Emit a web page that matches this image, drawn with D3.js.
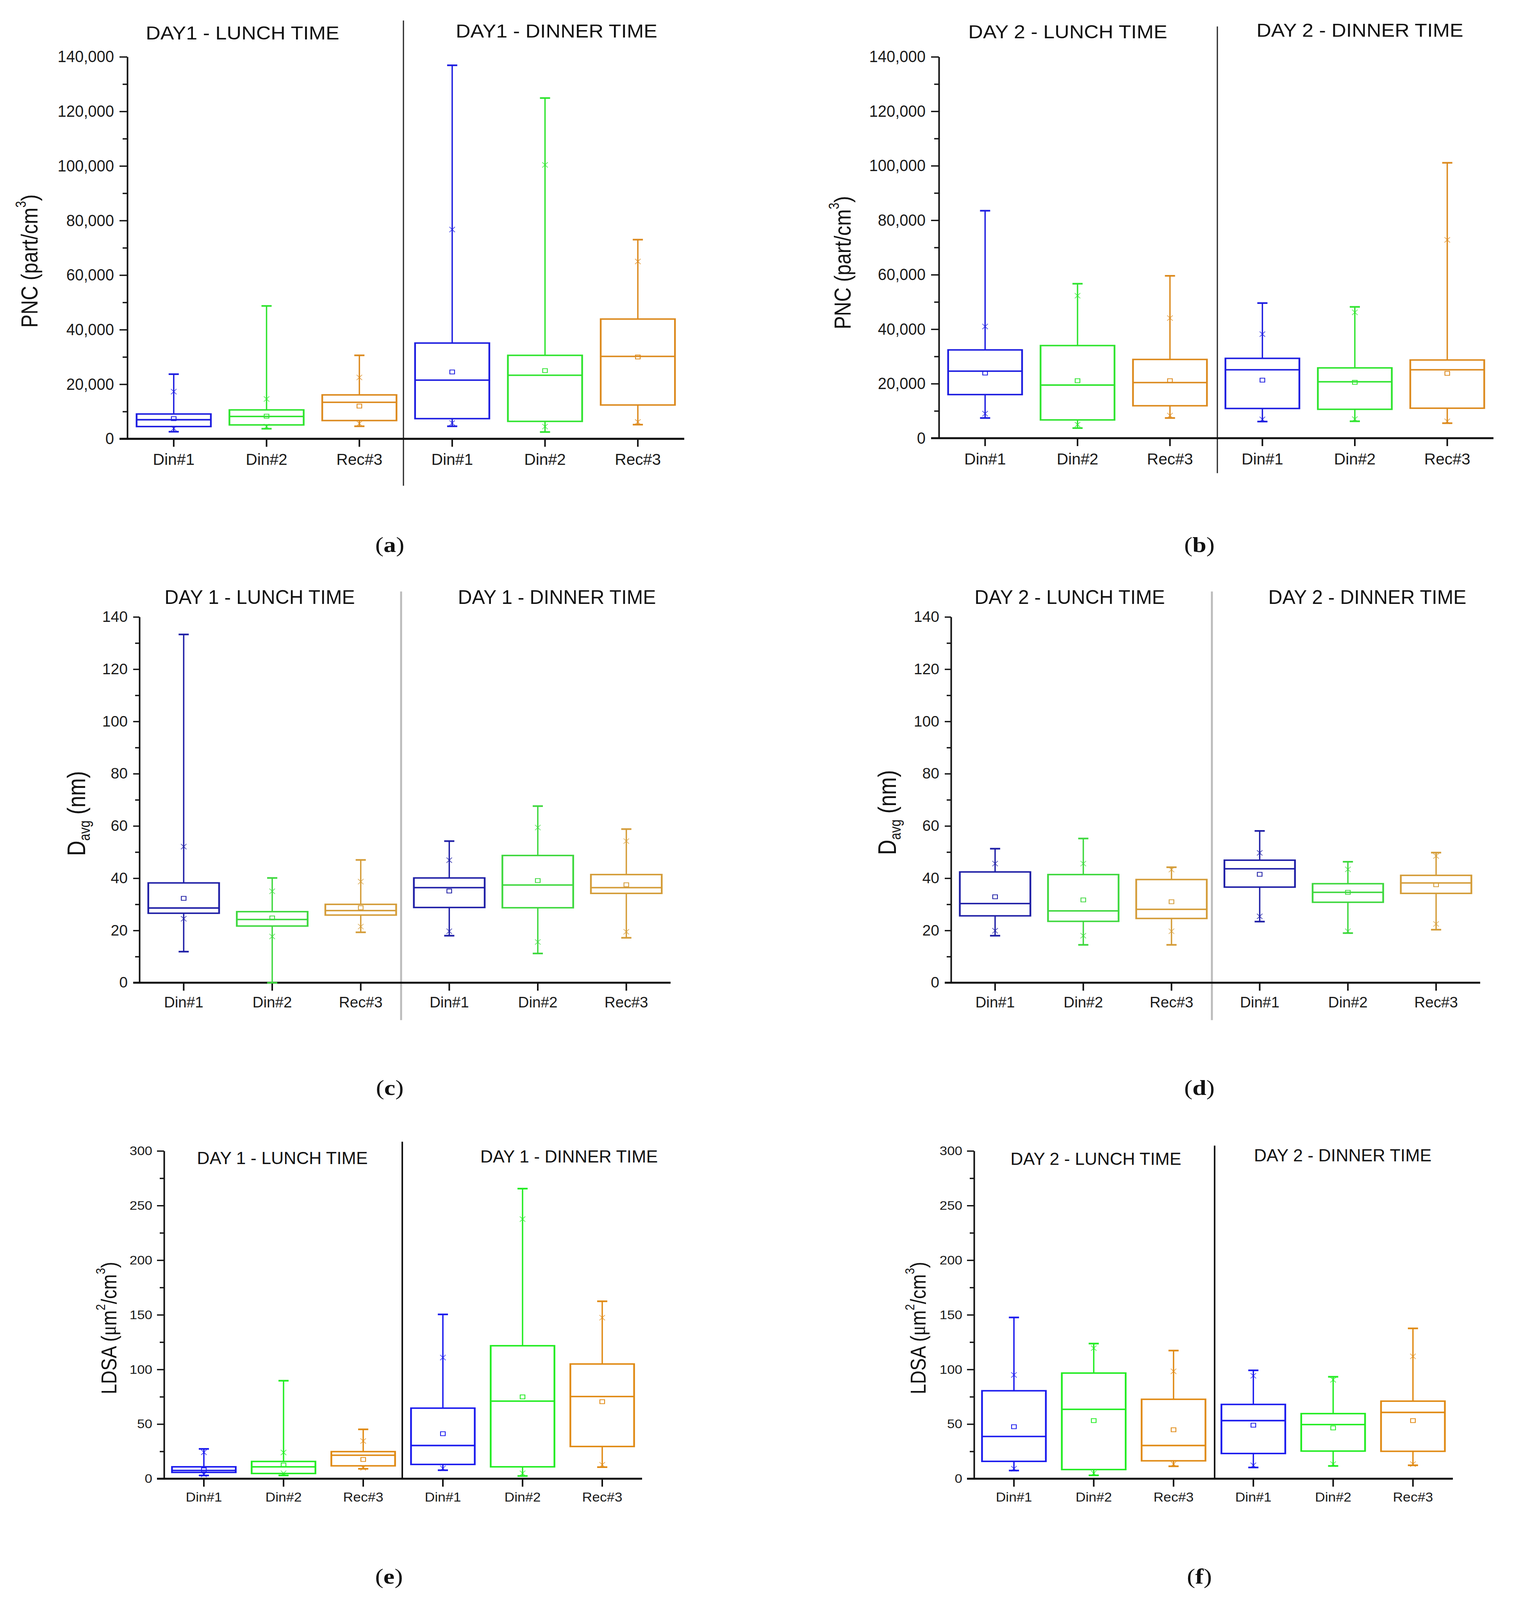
<!DOCTYPE html>
<html><head><meta charset="utf-8">
<script src="https://cdn.jsdelivr.net/npm/d3@7/dist/d3.min.js"></script>
<style>html,body{margin:0;padding:0;background:#fff;overflow:hidden;} svg{display:block;}</style>
</head><body>
<script>
// ---------------- DATA ----------------
const categories = ["Din#1","Din#2","Rec#3","Din#1","Din#2","Rec#3"];
// each row: [whiskerLow, q1, median, q3, whiskerHigh, mean, xLow, xHigh]
const pncDay1 = [
  [2600, 4500, 7000, 9100, 23700, 7400, 3800, 17300],
  [3700, 5100, 8200, 10600, 48700, 8300, 4500, 14600],
  [4600, 6700, 13400, 16100, 30600, 12000, 5600, 22500],
  [4600, 7400, 21500, 35100, 136900, 24500, 5800, 76700],
  [2500, 6400, 23300, 30600, 124900, 25000, 4500, 100400],
  [5200, 12400, 30200, 43900, 73000, 30000, 6200, 65000]
];
const pncDay2 = [
  [7400, 16000, 24600, 32400, 83500, 23900, 9000, 41000],
  [3700, 6700, 19500, 34000, 56700, 21100, 5000, 52300],
  [7400, 11900, 20400, 28900, 59600, 21100, 8300, 44100],
  [6100, 10900, 25100, 29300, 49600, 21300, 6900, 38200],
  [6200, 10600, 20700, 25800, 48200, 20500, 7000, 46200],
  [5500, 11000, 25100, 28700, 101100, 23800, 6200, 72800]
];
const davgDay1 = [
  [11.9, 26.6, 28.6, 38.2, 133.3, 32.3, 24.5, 52.1],
  [0, 21.7, 24.2, 27.2, 40.1, 24.8, 17.7, 35.0],
  [19.3, 25.9, 27.6, 30.0, 47.0, 28.7, 21.5, 38.7],
  [18.0, 28.8, 36.4, 40.1, 54.2, 35.1, 19.7, 46.9],
  [11.2, 28.7, 37.4, 48.7, 67.6, 39.1, 15.6, 59.4],
  [17.2, 34.2, 36.4, 41.4, 58.8, 37.5, 19.5, 54.2]
];
const davgDay2 = [
  [18.0, 25.6, 30.3, 42.4, 51.3, 32.9, 19.9, 45.6],
  [14.5, 23.5, 27.5, 41.4, 55.2, 31.7, 18.0, 45.6],
  [14.5, 24.6, 28.1, 39.5, 44.2, 31.0, 19.7, 43.3],
  [23.4, 36.6, 43.6, 46.9, 58.1, 41.5, 25.4, 49.7],
  [19.0, 30.8, 34.6, 37.9, 46.3, 34.6, 19.7, 43.4],
  [20.3, 34.2, 38.2, 41.1, 49.8, 37.5, 22.5, 48.5]
];
const ldsaDay1 = [
  [3.0, 5.8, 7.6, 10.9, 27.3, 8.1, 3.9, 24.2],
  [3.0, 4.8, 10.9, 15.8, 89.7, 12.5, 5.0, 24.0],
  [9.1, 11.8, 21.5, 24.8, 45.2, 17.6, 10.0, 34.5],
  [7.8, 13.1, 30.4, 64.6, 150.4, 41.2, 9.5, 110.9],
  [2.5, 10.9, 71.0, 121.7, 265.5, 74.9, 5.0, 237.6],
  [10.6, 29.5, 75.2, 105.0, 162.4, 70.5, 12.8, 147.4]
];
const ldsaDay2 = [
  [7.5, 15.9, 38.7, 80.5, 147.6, 47.6, 9.2, 95.0],
  [3.1, 8.4, 63.5, 96.7, 123.7, 53.2, 5.0, 119.5],
  [11.4, 16.4, 30.4, 72.7, 117.3, 44.8, 13.4, 98.3],
  [10.3, 23.1, 53.2, 68.0, 99.2, 49.0, 12.3, 94.2],
  [11.7, 25.3, 49.6, 59.6, 93.3, 46.5, 13.4, 90.5],
  [12.3, 25.1, 60.7, 71.0, 137.6, 53.2, 13.4, 112.0]
];
const pncTicks = [0, 20000, 40000, 60000, 80000, 100000, 120000, 140000];
const davgTicks = [0, 20, 40, 60, 80, 100, 120, 140];
const ldsaTicks = [0, 50, 100, 150, 200, 250, 300];
const panelTitles = {
  a: ["DAY1 - LUNCH TIME", "DAY1 - DINNER TIME"],
  b: ["DAY 2 - LUNCH TIME", "DAY 2 - DINNER TIME"],
  c: ["DAY 1 - LUNCH TIME", "DAY 1 - DINNER TIME"],
  d: ["DAY 2 - LUNCH TIME", "DAY 2 - DINNER TIME"],
  e: ["DAY 1 - LUNCH TIME", "DAY 1 - DINNER TIME"],
  f: ["DAY 2 - LUNCH TIME", "DAY 2 - DINNER TIME"]
};

// ---------------- LAYOUT / STYLE ----------------
// The drawing is laid out on the reference's 3874x4842 canvas and fitted to the window.
const W = 3874, H = 4842;
const vw = window.innerWidth || W, vh = window.innerHeight || H;
const svg = d3.select("body").append("svg").attr("width", vw).attr("height", vh)
  .attr("viewBox", `0 0 ${W} ${H}`).attr("preserveAspectRatio", "none")
  .style("font-family", "'Liberation Sans', Arial, sans-serif");
svg.append("rect").attr("width", W).attr("height", H).attr("fill", "#fff");

const palAB = ["#1d1de0", "#2fe42f", "#dc8a1e"];
const palCD = ["#1f1fa6", "#3ed83e", "#d49c38"];
const palEF = ["#1a1aee", "#22ec22", "#e08a14"];

function squeeze(sel, f) {
  sel.each(function () {
    const w = this.getComputedTextLength();
    if (w > 0) {
      this.setAttribute("textLength", (w * f).toFixed(1));
      this.setAttribute("lengthAdjust", "spacingAndGlyphs");
    }
  });
}

const panels = [
  { id: "a", data: pncDay1, ticks: pncTicks, minorStep: 10000, fmt: d3.format(","), pal: palAB,
    x0: 326, x1: 1752, yTop: 172, yBot: 1328, div: { x: 1033, y0: 62, y1: 1470, c: "#222", w: 3 },
    titles: [{ x: 621, y: 119 }, { x: 1425, y: 113 }], tFont: 56, tSq: 0.93,
    tickFont: 50, tickSq: 0.8, tickLen: 20, minorLen: 12, tickPad: 14,
    catFont: 48, catSq: 0.85, catOff: 79, ylab: { x: 80, y: 790, size: 60, kind: "pnc" },
    cap: { x: 998, y: 1670 } },
  { id: "b", data: pncDay2, ticks: pncTicks, minorStep: 10000, fmt: d3.format(","), pal: palAB,
    x0: 2404, x1: 3824, yTop: 172, yBot: 1326, div: { x: 3117, y0: 80, y1: 1432, c: "#222", w: 3 },
    titles: [{ x: 2734, y: 116 }, { x: 3482, y: 111 }], tFont: 56, tSq: 0.93,
    tickFont: 50, tickSq: 0.8, tickLen: 20, minorLen: 12, tickPad: 14,
    catFont: 48, catSq: 0.85, catOff: 79, ylab: { x: 2162, y: 795, size: 60, kind: "pnc" },
    cap: { x: 3071, y: 1670 } },
  { id: "c", data: davgDay1, ticks: davgTicks, minorStep: 10, fmt: d3.format("d"), pal: palCD,
    x0: 357, x1: 1717, yTop: 1867, yBot: 2974, div: { x: 1027, y0: 1790, y1: 3087, c: "#bbbbbb", w: 5 },
    titles: [{ x: 665, y: 1827 }, { x: 1426, y: 1827 }], tFont: 58, tSq: 0.86,
    tickFont: 45, tickSq: 0.87, tickLen: 16, minorLen: 11, tickPad: 14,
    catFont: 46, catSq: 0.84, catOff: 75, ylab: { x: 201, y: 2462, size: 64, kind: "davg" },
    cap: { x: 998, y: 3313 } },
  { id: "d", data: davgDay2, ticks: davgTicks, minorStep: 10, fmt: d3.format("d"), pal: palCD,
    x0: 2435, x1: 3790, yTop: 1867, yBot: 2974, div: { x: 3103, y0: 1790, y1: 3087, c: "#bbbbbb", w: 5 },
    titles: [{ x: 2739, y: 1827 }, { x: 3501, y: 1827 }], tFont: 58, tSq: 0.86,
    tickFont: 45, tickSq: 0.87, tickLen: 16, minorLen: 11, tickPad: 14,
    catFont: 46, catSq: 0.84, catOff: 75, ylab: { x: 2277, y: 2459, size: 64, kind: "davg" },
    cap: { x: 3071, y: 3313 } },
  { id: "e", data: ldsaDay1, ticks: ldsaTicks, minorStep: 25, fmt: d3.format("d"), pal: palEF,
    x0: 420, x1: 1644, yTop: 3483, yBot: 4475, div: { x: 1030, y0: 3455, y1: 4475, c: "#111", w: 4 },
    titles: [{ x: 723, y: 3523 }, { x: 1457, y: 3518 }], tFont: 52, tSq: 0.86,
    tickFont: 38, tickSq: 0.92, tickLen: 18, minorLen: 11, tickPad: 12,
    catFont: 40, catSq: 0.89, catOff: 69, ylab: { x: 283, y: 4019, size: 56, kind: "ldsa" },
    cap: { x: 996, y: 4792 } },
  { id: "f", data: ldsaDay2, ticks: ldsaTicks, minorStep: 25, fmt: d3.format("d"), pal: palEF,
    x0: 2494, x1: 3720, yTop: 3483, yBot: 4475, div: { x: 3110, y0: 3467, y1: 4475, c: "#111", w: 4 },
    titles: [{ x: 2806, y: 3525 }, { x: 3438, y: 3515 }], tFont: 52, tSq: 0.86,
    tickFont: 38, tickSq: 0.92, tickLen: 18, minorLen: 11, tickPad: 12,
    catFont: 40, catSq: 0.89, catOff: 69, ylab: { x: 2355, y: 4019, size: 56, kind: "ldsa" },
    cap: { x: 3071, y: 4792 } }
];

panels.forEach(p => {
  const g = svg.append("g").attr("class", "panel-" + p.id);
  const maxV = p.ticks[p.ticks.length - 1];
  const y = d3.scaleLinear().domain([0, maxV]).range([p.yBot, p.yTop]);
  const x = d3.scaleBand().domain(d3.range(categories.length)).range([p.x0, p.x1]).padding(0);
  const bw = x.bandwidth() * 0.8;
  const cx = i => x(i) + x.bandwidth() / 2;

  // divider between lunch and dinner
  g.append("line").attr("x1", p.div.x).attr("x2", p.div.x).attr("y1", p.div.y0).attr("y2", p.div.y1)
    .attr("stroke", p.div.c).attr("stroke-width", p.div.w);

  // minor ticks
  const minorVals = d3.range(0, maxV + 1e-9, p.minorStep).filter(v => !p.ticks.includes(v));
  const minorAxis = d3.axisLeft(y).tickValues(minorVals).tickSize(p.minorLen).tickFormat("").tickSizeOuter(0);
  const gm = g.append("g").attr("transform", `translate(${p.x0},0)`).call(minorAxis);
  gm.select(".domain").remove();
  gm.selectAll("line").attr("stroke", "#111").attr("stroke-width", 4);

  // y axis major
  const yAxis = d3.axisLeft(y).tickValues(p.ticks).tickSize(p.tickLen).tickPadding(p.tickPad)
    .tickFormat(p.fmt).tickSizeOuter(0);
  const gy = g.append("g").attr("transform", `translate(${p.x0},0)`).call(yAxis);
  gy.select(".domain").attr("stroke", "#111").attr("stroke-width", 4);
  gy.selectAll(".tick line").attr("stroke", "#111").attr("stroke-width", 4);
  const yt = gy.selectAll(".tick text").attr("fill", "#1a1a1a")
    .style("font-size", p.tickFont + "px").style("font-family", "'Liberation Sans', Arial, sans-serif");
  squeeze(yt, p.tickSq);

  // x axis
  const xAxis = d3.axisBottom(x).tickSize(24).tickPadding(10).tickFormat(i => categories[i]).tickSizeOuter(0);
  const gx = g.append("g").attr("transform", `translate(0,${p.yBot})`).call(xAxis);
  gx.select(".domain").remove();
  gx.selectAll(".tick line").attr("stroke", "#111").attr("stroke-width", 4);
  const xt = gx.selectAll(".tick text").attr("fill", "#1a1a1a").attr("y", p.catOff).attr("dy", 0)
    .style("font-size", p.catFont + "px").style("font-family", "'Liberation Sans', Arial, sans-serif");
  squeeze(xt, p.catSq);
  g.append("line").attr("x1", p.x0 - p.tickLen).attr("x2", p.x1).attr("y1", p.yBot).attr("y2", p.yBot)
    .attr("stroke", "#111").attr("stroke-width", 6);

  // boxes
  const boxes = g.append("g").selectAll("g.box").data(p.data).join("g").attr("class", "box");
  boxes.each(function (d, i) {
    const b = d3.select(this);
    const col = p.pal[i % 3];
    const c = cx(i);
    const [lo, q1, med, q3, hi, mean, xl, xh] = d;
    b.append("line").attr("x1", c).attr("x2", c).attr("y1", y(q3)).attr("y2", y(hi))
      .attr("stroke", col).attr("stroke-width", 3.5);
    b.append("line").attr("x1", c).attr("x2", c).attr("y1", y(q1)).attr("y2", y(lo))
      .attr("stroke", col).attr("stroke-width", 3.5);
    [lo, hi].forEach(v => b.append("line").attr("x1", c - 13).attr("x2", c + 13).attr("y1", y(v)).attr("y2", y(v))
      .attr("stroke", col).attr("stroke-width", 5));
    b.append("rect").attr("x", c - bw / 2).attr("width", bw).attr("y", y(q3)).attr("height", y(q1) - y(q3))
      .attr("fill", "none").attr("stroke", col).attr("stroke-width", 4.5);
    b.append("line").attr("x1", c - bw / 2).attr("x2", c + bw / 2).attr("y1", y(med)).attr("y2", y(med))
      .attr("stroke", col).attr("stroke-width", 4.5);
    b.append("rect").attr("x", c - 6).attr("y", y(mean) - 6).attr("width", 12).attr("height", 12)
      .attr("fill", "none").attr("stroke", col).attr("stroke-width", 2.2);
    [xl, xh].forEach(v => {
      const yy = y(v);
      b.append("path").attr("d", `M${c - 7},${yy - 8}L${c + 7},${yy + 8}M${c + 7},${yy - 8}L${c - 7},${yy + 8}`)
        .attr("stroke", col).attr("stroke-width", 2).attr("opacity", 0.75).attr("fill", "none");
    });
  });

  // titles
  p.titles.forEach((t, k) => {
    const tt = g.append("text").attr("x", t.x).attr("y", t.y).attr("text-anchor", "middle")
      .style("font-size", p.tFont + "px").attr("fill", "#111").text(panelTitles[p.id][k]);
    squeeze(tt, p.tSq);
  });

  // y label
  const yl = g.append("text").attr("transform", `translate(${p.ylab.x},${p.ylab.y}) rotate(-90)`)
    .attr("text-anchor", "middle").attr("dominant-baseline", "middle")
    .style("font-size", p.ylab.size + "px").attr("fill", "#111");
  const small = Math.round(p.ylab.size * 0.6);
  if (p.ylab.kind === "pnc") {
    yl.append("tspan").text("PNC (part/cm");
    yl.append("tspan").attr("dy", -p.ylab.size * 0.4).style("font-size", small + "px").text("3");
    yl.append("tspan").attr("dy", p.ylab.size * 0.4).text(")");
  } else if (p.ylab.kind === "davg") {
    yl.append("tspan").text("D");
    yl.append("tspan").attr("dy", p.ylab.size * 0.3).style("font-size", small + "px").text("avg");
    yl.append("tspan").attr("dy", -p.ylab.size * 0.3).text(" (nm)");
  } else {
    yl.append("tspan").text("LDSA (");
    yl.append("tspan").style("font-family", "'Liberation Serif', serif").text("μ");
    yl.append("tspan").text("m");
    yl.append("tspan").attr("dy", -p.ylab.size * 0.4).style("font-size", small + "px").text("2");
    yl.append("tspan").attr("dy", p.ylab.size * 0.4).text("/cm");
    yl.append("tspan").attr("dy", -p.ylab.size * 0.4).style("font-size", small + "px").text("3");
    yl.append("tspan").attr("dy", p.ylab.size * 0.4).text(")");
  }

  // caption
  const cap = g.append("text").attr("x", p.cap.x).attr("y", p.cap.y).attr("text-anchor", "middle")
    .style("font-family", "'Liberation Serif', 'Times New Roman', serif").style("font-size", "64px").attr("fill", "#111");
  cap.append("tspan").text("(");
  cap.append("tspan").style("font-weight", "bold").text(p.id);
  cap.append("tspan").text(")");
});
</script>
</body></html>
